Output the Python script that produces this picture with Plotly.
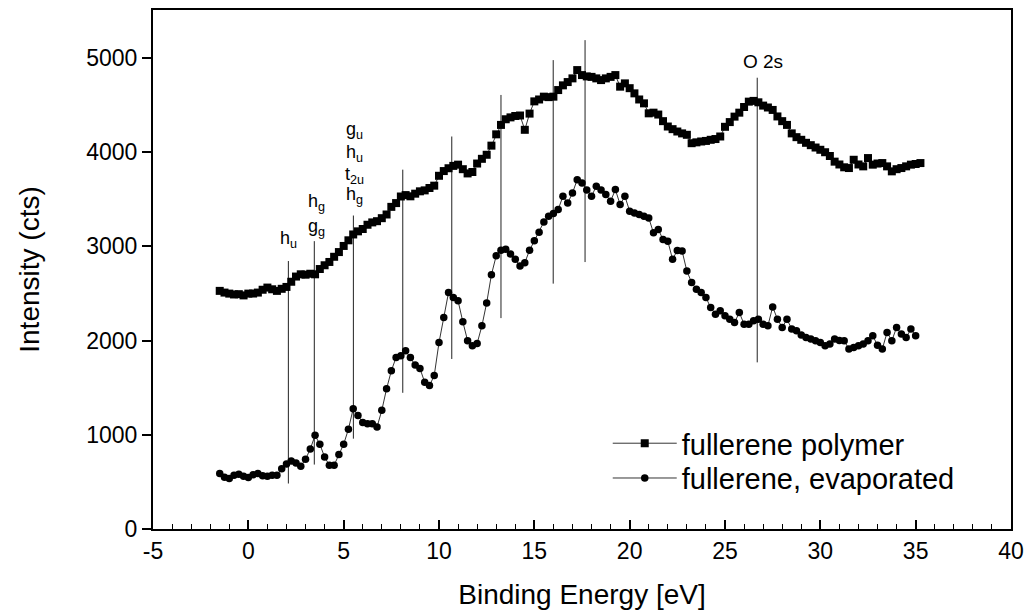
import numpy as np
import plotly.graph_objects as go

# ---- data ----
E_START = -1.5
E_STEP = 0.25

polymer = [
    2528, 2510, 2499, 2490, 2493, 2480, 2499, 2500, 2510, 2540, 2563, 2545,
    2528, 2550, 2570, 2625, 2680, 2704, 2700, 2710, 2704, 2760, 2800, 2835,
    2890, 2940, 3005, 3065, 3127, 3160, 3185, 3230, 3255, 3268, 3300, 3339,
    3420, 3460, 3530, 3545, 3532, 3560, 3585, 3595, 3620, 3645, 3750, 3800,
    3830, 3855, 3868, 3820, 3775, 3790, 3880, 3930, 3973, 4070, 4190, 4290,
    4350, 4370, 4385, 4390, 4238, 4410, 4540, 4560, 4590, 4585, 4590, 4660,
    4710, 4745, 4784, 4872, 4819, 4805, 4800, 4784, 4766, 4784, 4800, 4819,
    4696, 4731, 4680, 4625, 4560, 4519, 4413, 4420, 4400, 4330, 4273, 4245,
    4220, 4200, 4185, 4096, 4105, 4114, 4120, 4132, 4140, 4167, 4270, 4320,
    4378, 4420, 4480, 4537, 4545, 4530, 4495, 4475, 4449, 4380, 4330, 4290,
    4200, 4160, 4132, 4100, 4075, 4050, 4026, 4000, 3960, 3900, 3870, 3840,
    3832, 3920, 3870, 3850, 3938, 3868, 3880, 3885, 3850, 3797, 3820, 3832,
    3850, 3868, 3875, 3885,
]

evaporated = [
    589, 550, 536, 570, 582, 560, 547, 575, 589, 565, 561, 570,
    571, 640, 690, 722, 700, 666, 740, 850, 994, 899, 765, 677,
    677, 790, 900, 1060, 1277, 1206, 1130, 1118, 1118, 1082, 1260, 1488,
    1680, 1822, 1840, 1893, 1822, 1740, 1705, 1558, 1523, 1629, 1980, 2245,
    2510, 2457, 2422, 2200, 1999, 1946, 1970, 2157, 2400, 2700, 2900, 2960,
    2969, 2920, 2863, 2792, 2827, 2960, 3060, 3150, 3260, 3320, 3350, 3392,
    3532, 3460, 3567, 3709, 3673, 3600, 3532, 3640, 3600, 3550, 3480, 3603,
    3445, 3532, 3374, 3356, 3339, 3320, 3303, 3144, 3180, 3074, 3056, 2863,
    2958, 2951, 2739, 2616, 2546, 2510, 2457, 2351, 2281, 2316, 2263, 2228,
    2192, 2298, 2175, 2175, 2210, 2228, 2175, 2157, 2358, 2228, 2140, 2228,
    2122, 2104, 2060, 2034, 2017, 1999, 1980, 1946, 1964, 2017, 2000, 1999,
    1911, 1928, 1945, 1964, 1999, 2052, 1950, 1911, 2087, 1999, 2140, 2069,
    2034, 2122, 2052,
]

# vertical marker lines: position, top and bottom intensity
line_x = [2.10, 3.46, 5.51, 8.10, 10.67, 13.25, 15.99, 17.66, 26.69]
line_top = [2845, 3056, 3328, 3815, 4167, 4608, 4978, 5190, 4791]
line_bottom = [483, 684, 959, 1446, 1805, 2239, 2605, 2834, 1769]

# peak labels (text, x, y of label bottom)
label_text = ["h<sub>u</sub>", "g<sub>g</sub>", "h<sub>g</sub>",
              "h<sub>g</sub>", "t<sub>2u</sub>", "h<sub>u</sub>", "g<sub>u</sub>"]
label_x = [2.10, 3.55, 3.55, 5.55, 5.55, 5.55, 5.55]
label_y = [2930, 3060, 3325, 3395, 3610, 3845, 4090]

o2s_text = "O 2s"
o2s_x = 26.98
o2s_y = 4960

series_names = ["fullerene polymer", "fullerene, evaporated"]

x_ticks = [-5, 0, 5, 10, 15, 20, 25, 30, 35, 40]
x_tick_text = ["-5", "0", "5", "10", "15", "20", "25", "30", "35", "40"]
y_ticks = [0, 1000, 2000, 3000, 4000, 5000]

# ---- figure ----
FONT = "Arial, Liberation Sans, Helvetica, sans-serif"

e_poly = E_START + E_STEP * np.arange(len(polymer))
e_evap = E_START + E_STEP * np.arange(len(evaporated))

fig = go.Figure()

# vertical lines
vx, vy = [], []
for xv, t, b in zip(line_x, line_top, line_bottom):
    vx += [xv, xv, None]
    vy += [b, t, None]
fig.add_trace(go.Scatter(x=vx, y=vy, mode="lines",
                         line=dict(color="#222222", width=1),
                         showlegend=False, hoverinfo="skip"))

fig.add_trace(go.Scatter(x=e_poly, y=polymer, mode="lines+markers",
                         name=series_names[0], legend="legend",
                         line=dict(color="black", width=0.8),
                         marker=dict(symbol="square", size=8, color="black")))
fig.add_trace(go.Scatter(x=e_evap, y=evaporated, mode="lines+markers",
                         name=series_names[1], legend="legend2",
                         line=dict(color="black", width=0.8),
                         marker=dict(symbol="circle", size=7.5, color="black")))

for t, xv, yv in zip(label_text, label_x, label_y):
    fig.add_annotation(x=xv, y=yv, text=t, showarrow=False,
                       xanchor="center", yanchor="bottom",
                       font=dict(family=FONT, size=18, color="black"))
fig.add_annotation(x=o2s_x, y=o2s_y, text=o2s_text, showarrow=False,
                   xanchor="center", yanchor="middle",
                   font=dict(family=FONT, size=19, color="black"))

legend_common = dict(xanchor="left", yanchor="middle",
                     bgcolor="rgba(0,0,0,0)", borderwidth=0,
                     font=dict(family=FONT, size=29, color="black"),
                     itemwidth=64)

fig.update_layout(
    width=1032, height=614,
    margin=dict(l=153, r=21, t=8, b=85),
    paper_bgcolor="white", plot_bgcolor="white",
    font=dict(family=FONT, color="black"),
    showlegend=True,
    legend=dict(x=0.530, y=0.165, **legend_common),
    legend2=dict(x=0.530, y=0.098, **legend_common),
    xaxis=dict(range=[-5, 40], tickvals=x_ticks, ticktext=x_tick_text,
               ticks="inside", ticklen=9, tickwidth=1.5, tickcolor="black",
               minor=dict(dtick=1, ticks="inside", ticklen=5, tickwidth=1.2,
                          tickcolor="black", showgrid=False),
               showline=True, linewidth=2, linecolor="black", mirror=True,
               showgrid=False, zeroline=False,
               tickfont=dict(size=23, family=FONT),
               title=dict(text="Binding Energy [eV]",
                          font=dict(size=28, family=FONT), standoff=22)),
    yaxis=dict(range=[0, 5510], tickvals=y_ticks,
               ticks="outside", ticklen=9, tickwidth=1.5, tickcolor="black",
               showline=True, linewidth=2, linecolor="black", mirror=True,
               showgrid=False, zeroline=False,
               tickfont=dict(size=23, family=FONT),
               title=dict(text="Intensity (cts)",
                          font=dict(size=28, family=FONT), standoff=38)),
)

fig.write_html("out.html")
